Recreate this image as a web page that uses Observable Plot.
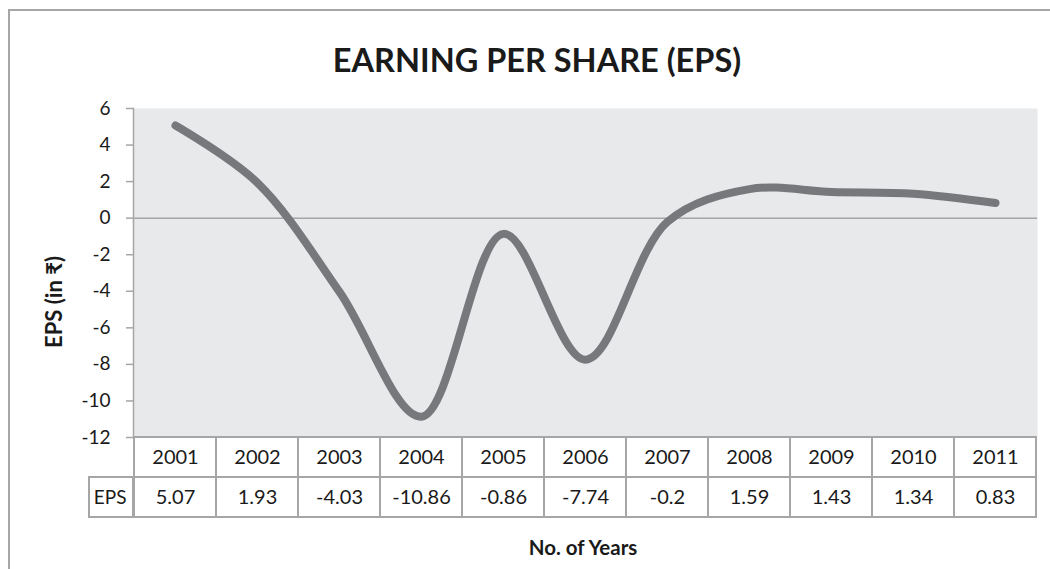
<!DOCTYPE html>
<html>
<head>
<meta charset="utf-8">
<script src="https://cdn.jsdelivr.net/npm/d3@7"></script>
<script src="https://cdn.jsdelivr.net/npm/@observablehq/plot@0.6"></script>
<style>
  html, body { margin: 0; padding: 0; background: #ffffff; overflow: hidden; }
  #wrap { position: relative; width: 1050px; height: 569px; font-family: Lato, "Noto Sans", sans-serif; }
  #border { position: absolute; left: 8px; top: 9px; width: 1100px; height: 700px; border: 2px solid #a6a6a6; box-sizing: border-box; }
  .layer { position: absolute; left: 0; top: 0; }
</style>
</head>
<body>
<div id="wrap">
  <div id="border"></div>
  <svg id="labels" class="layer" width="1050" height="569" style="font-family: Lato, 'Noto Sans', sans-serif; fill:#1a1a1a;">
    <text id="title" x="537" y="72" text-anchor="middle" font-weight="700" font-size="32.5">EARNING PER SHARE (EPS)</text>
    <text id="xlab" x="583" y="555" text-anchor="middle" font-weight="700" font-size="20.5">No. of Years</text>
    <text id="ylab" transform="translate(62,302) rotate(-90)" text-anchor="middle" font-weight="700" font-size="22">EPS (in ₹)</text>
  </svg>
</div>
<script>
// ---- data ----
const years = ["2001", "2002", "2003", "2004", "2005", "2006", "2007", "2008", "2009", "2010", "2011"];
const eps = [5.07, 1.93, -4.03, -10.86, -0.86, -7.74, -0.2, 1.59, 1.43, 1.34, 0.83];
const epsLabels = ["5.07", "1.93", "-4.03", "-10.86", "-0.86", "-7.74", "-0.2", "1.59", "1.43", "1.34", "0.83"];
const yTicks = [6, 4, 2, 0, -2, -4, -6, -8, -10, -12];
const rowNames = ["year", "EPS"];

const data = years.map((year, i) => ({year, eps: eps[i]}));
const cells = years.flatMap((year, i) => [
  {year, row: "year", label: year},
  {year, row: "EPS", label: epsLabels[i]}
]);

const gridColor = "#a6a6a6";
const font = "Lato, 'Noto Sans', sans-serif";

const main = Plot.plot({
  width: 1050,
  height: 437,
  marginTop: 108,
  marginBottom: 0,
  marginLeft: 133,
  marginRight: 13,
  style: {fontFamily: font, fontSize: "19px", color: "#1a1a1a", background: "transparent", overflow: "visible"},
  x: {type: "band", domain: years, padding: 0, axis: null},
  y: {domain: [-12, 6], label: null},
  marks: [
    Plot.frame({fill: "#e8e9eb", stroke: null}),
    Plot.ruleY([0], {stroke: gridColor, strokeWidth: 1.5}),
    Plot.axisY({ticks: yTicks, tickFormat: d => String(d), tickSize: 7, tickPadding: 16, stroke: gridColor, strokeWidth: 1.5, label: null, fill: "#1a1a1a", fontSize: 19}),
    Plot.frame({anchor: "left", stroke: gridColor, strokeWidth: 1.5}),
    Plot.line(data, {x: "year", y: "eps", curve: "catmull-rom", stroke: "#77787b", strokeWidth: 8, strokeLinecap: "round", strokeLinejoin: "round"})
  ]
});
main.style.position = "absolute";
main.style.left = "0px";
main.style.top = "0px";

const table = Plot.plot({
  width: 1050,
  height: 80,
  marginTop: 0,
  marginBottom: 0,
  marginLeft: 133,
  marginRight: 13,
  style: {fontFamily: font, fontSize: "20px", color: "#1a1a1a", background: "transparent", overflow: "visible"},
  x: {type: "band", domain: years, padding: 0, axis: null},
  y: {type: "band", domain: rowNames, padding: 0, label: null},
  marks: [
    Plot.cell(cells, {x: "year", y: "row", fill: "white", stroke: gridColor, strokeWidth: 2}),
    Plot.text(cells, {x: "year", y: "row", text: "label", fontSize: 20, fill: "#1a1a1a"}),
    Plot.axisY({tickSize: 0, tickPadding: 7, tickFormat: d => d === "EPS" ? "EPS" : "", fontSize: 19, fill: "#1a1a1a", label: null})
  ]
});
table.style.position = "absolute";
table.style.left = "0px";
table.style.top = "437px";

// label cell box for the "EPS" row, positioned from the table's own y scale
const ys = table.scale("y");
d3.select(table).insert("rect", ":first-child")
  .attr("x", 89).attr("width", 133 - 89)
  .attr("y", ys.apply("EPS")).attr("height", ys.bandwidth)
  .attr("fill", "white").attr("stroke", gridColor).attr("stroke-width", 2);

const wrap = document.getElementById("wrap");
wrap.appendChild(main);
wrap.appendChild(table);
</script>
</body>
</html>
